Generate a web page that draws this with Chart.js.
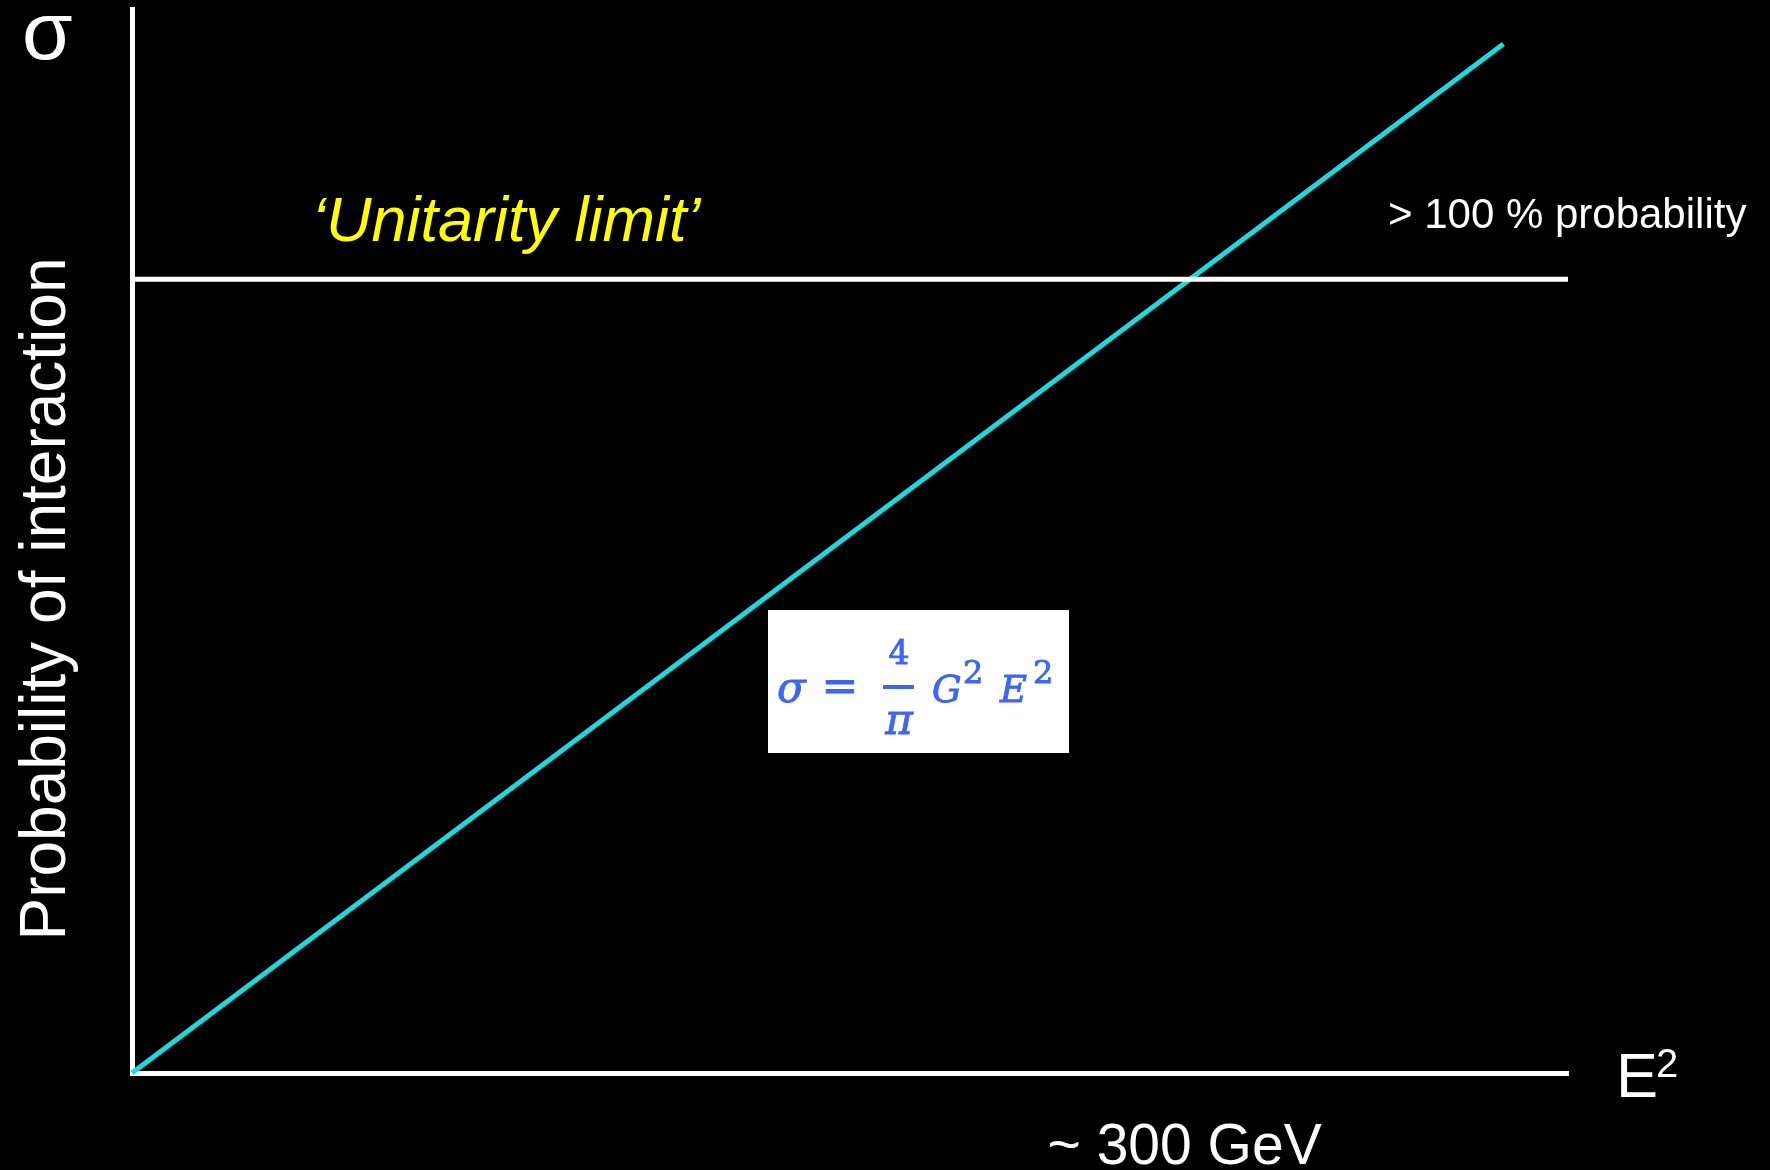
<!DOCTYPE html>
<html>
<head>
<meta charset="utf-8">
<title>Unitarity limit</title>
<script src="https://cdn.jsdelivr.net/npm/chart.js@4"></script>
<style>
    html, body { margin: 0; padding: 0; background: #000; }
    #wrap { width: 1770px; height: 1170px; }
</style>
</head>
<body>
<div id="wrap"><canvas id="sigmaChart" width="1770" height="1170"></canvas></div>
<script>
// cross section grows linearly with E^2
const energyX = [0, 95.5];
const sigmaY = [0, 96.7];

// unitarity limit (horizontal)
const limitX = [0, 100];
const limitY = [74.6, 74.6];

// where the "~ 300 GeV" label sits on the x axis
const energyLabelX = 73.3;

const axisColor = '#ffffff';
const lineColor = '#1dd9de';
const formulaColor = '#3d67f2';
const sans = '"Liberation Sans", Arial, sans-serif';
const serif = '"DejaVu Serif", "Liberation Serif", serif';

function toPoints(xs, ys) {
    return xs.map(function (x, i) { return { x: x, y: ys[i] }; });
}

// fill plus a thin stroke, so the formula looks a bit heavier
function heavyText(ctx, text, x, y) {
    ctx.fillText(text, x, y);
    ctx.strokeText(text, x, y);
}

// text labels and formula box, placed from the scales
const annotations = {
    id: 'annotations',
    afterDatasetsDraw(chart) {
        const ctx = chart.ctx;
        const xs = chart.scales.x;
        const ys = chart.scales.y;
        const area = chart.chartArea;
        const limitPx = ys.getPixelForValue(limitY[0]);

        ctx.save();
        ctx.textAlign = 'left';
        ctx.textBaseline = 'alphabetic';

        // sigma at top left
        ctx.fillStyle = '#fff';
        ctx.font = '82px ' + sans;
        ctx.fillText('σ', 22, 59);

        // y title, rotated
        ctx.save();
        ctx.translate(65, (area.top + area.bottom) / 2 + 58);
        ctx.rotate(-Math.PI / 2);
        ctx.textAlign = 'center';
        ctx.font = '64px ' + sans;
        ctx.fillText('Probability of interaction', 0, 0);
        ctx.restore();

        // unitarity limit label
        ctx.fillStyle = '#ffff00';
        ctx.font = 'italic 63px ' + sans;
        ctx.fillText('\u2018Unitarity limit\u2019', 312, limitPx - 38);

        ctx.fillStyle = '#fff';
        ctx.font = '42px ' + sans;
        ctx.fillText('> 100 % probability', 1388, limitPx - 51);

        // x title E^2
        ctx.font = '63px ' + sans;
        ctx.fillText('E', 1616, area.bottom + 24);
        ctx.font = '40px ' + sans;
        ctx.fillText('2', 1656, area.bottom + 4);

        // energy at the crossing
        ctx.font = '57px ' + sans;
        ctx.textAlign = 'center';
        ctx.fillText('~ 300 GeV', xs.getPixelForValue(energyLabelX), area.bottom + 91);

        // formula box
        const bx = 768, by = 610, bw = 301, bh = 143;
        ctx.fillStyle = '#fff';
        ctx.fillRect(bx, by, bw, bh);

        ctx.fillStyle = formulaColor;
        ctx.strokeStyle = formulaColor;
        ctx.lineWidth = 0.9;
        ctx.textAlign = 'left';
        ctx.font = 'italic 42px ' + serif;
        heavyText(ctx, 'σ', bx + 9, by + 92);
        ctx.textAlign = 'center';
        ctx.font = '44px ' + serif;
        heavyText(ctx, '=', bx + 72, by + 91);
        ctx.font = '33px ' + serif;
        heavyText(ctx, '4', bx + 131, by + 54);
        ctx.font = 'italic 42px ' + serif;
        heavyText(ctx, 'π', bx + 131, by + 124);
        ctx.fillRect(bx + 115, by + 75, 31, 4);
        ctx.textAlign = 'left';
        ctx.font = 'italic 37px ' + serif;
        heavyText(ctx, 'G', bx + 164, by + 92);
        heavyText(ctx, 'E', bx + 232, by + 92);
        ctx.font = '32px ' + serif;
        heavyText(ctx, '2', bx + 195, by + 73);
        heavyText(ctx, '2', bx + 265, by + 73);

        ctx.restore();
    }
};

const ctx = document.getElementById('sigmaChart');
const sigmaChart = new Chart(ctx, {
    type: 'scatter',
    data: {
        datasets: [{
            label: 'unitarity limit',
            data: toPoints(limitX, limitY),
            showLine: true,
            borderColor: axisColor,
            borderWidth: 5,
            pointRadius: 0,
            clip: false
        }, {
            label: 'sigma',
            data: toPoints(energyX, sigmaY),
            showLine: true,
            borderColor: lineColor,
            borderWidth: 5,
            pointRadius: 0,
            clip: false
        }]
    },
    options: {
        responsive: false,
        animation: false,
        devicePixelRatio: 1,
        layout: {
            padding: { left: 124, right: 202, top: 9, bottom: 89 }
        },
        plugins: {
            legend: { display: false },
            tooltip: { enabled: false }
        },
        scales: {
            x: {
                type: 'linear',
                min: 0,
                max: 100,
                grid: { display: false },
                ticks: { display: false },
                border: { color: axisColor, width: 5 }
            },
            y: {
                type: 'linear',
                min: 0,
                max: 100,
                grid: { display: false },
                ticks: { display: false },
                border: { color: axisColor, width: 5 }
            }
        }
    },
    plugins: [annotations]
});
</script>
</body>
</html>
